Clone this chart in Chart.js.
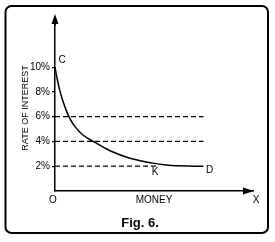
<!DOCTYPE html>
<html>
<head>
<meta charset="utf-8">
<script src="https://cdn.jsdelivr.net/npm/chart.js@4.4.0/dist/chart.umd.min.js"></script>
<style>
  html, body { margin: 0; padding: 0; background: #fff; }
  #wrap { width: 275px; height: 242px; }
</style>
</head>
<body>
<div id="wrap"><canvas id="liquidityChart"></canvas></div>
<script>
// liquidity preference curve (money vs rate of interest)
const money = [0, 0.6, 1.3, 2.3, 3.5, 5.1, 7.2, 10.1, 14.3, 19.3, 27.8, 37.9, 49.5, 56, 63, 75];
const rate = [10, 9.45, 8.9, 8.2, 7.5, 6.75, 5.95, 5.2, 4.5, 4, 3.25, 2.65, 2.25, 2.1, 2.03, 2];

// dashed reference levels and where each one stops
const guideLevels = [6, 4, 2];
const guideEnds = [75, 75, 52];

const yTicks = [2, 4, 6, 8, 10];

const pointNames = ['C', 'K', 'D'];
const pointMoney = [0, 51, 75];
const pointRate = [10, 2, 2];

const ink = '#000';
const fontFamily = '"Liberation Sans", Arial, sans-serif';

function createLiquidityChart(){
    const datasets = [];
    for(let i=0;i<guideLevels.length;i++){
        datasets.push({
            data: [{x: 0, y: guideLevels[i]}, {x: guideEnds[i], y: guideLevels[i]}],
            borderColor: ink,
            borderWidth: 1.3,
            borderDash: [5, 3],
            pointRadius: 0,
            fill: false
        });
    }
    datasets.push({
        data: money.map((m, i) => ({x: m, y: rate[i]})),
        borderColor: ink,
        borderWidth: 1.5,
        pointRadius: 0,
        fill: false,
        cubicInterpolationMode: 'monotone'
    });

    const paper = {
        id: 'paper',
        beforeDraw(chart){
            const ctx = chart.ctx;
            ctx.save();
            ctx.fillStyle = '#fff';
            ctx.fillRect(0, 0, chart.width, chart.height);
            ctx.strokeStyle = ink;
            ctx.lineWidth = 2;
            ctx.beginPath();
            ctx.roundRect(5.5, 6, 262.5, 227, 6);
            ctx.stroke();
            ctx.restore();
        },
        afterDraw(chart){
            const ctx = chart.ctx;
            const area = chart.chartArea;
            const xs = chart.scales.x;
            const ys = chart.scales.y;
            ctx.save();
            ctx.strokeStyle = ink;
            ctx.fillStyle = ink;
            ctx.lineWidth = 1.5;
            // y axis arrow
            ctx.beginPath();
            ctx.moveTo(area.left, area.top + 1);
            ctx.lineTo(area.left, area.top - 4);
            ctx.stroke();
            ctx.beginPath();
            ctx.moveTo(area.left, area.top - 11);
            ctx.lineTo(area.left - 3.5, area.top - 1);
            ctx.lineTo(area.left + 3.5, area.top - 1);
            ctx.closePath();
            ctx.fill();
            // x axis arrow
            ctx.beginPath();
            ctx.moveTo(area.right + 1, area.bottom);
            ctx.lineTo(area.right - 10, area.bottom - 3.5);
            ctx.lineTo(area.right - 10, area.bottom + 3.5);
            ctx.closePath();
            ctx.fill();

            ctx.font = '10px ' + fontFamily;
            ctx.textAlign = 'center';
            ctx.textBaseline = 'middle';
            ctx.fillText('O', area.left - 2, area.bottom + 9);
            ctx.fillText('X', area.right + 3, area.bottom + 9);

            const offsets = [[7, -7], [-1, 6], [6, 4]];
            for(let i=0;i<pointNames.length;i++){
                const px = xs.getPixelForValue(pointMoney[i]);
                const py = ys.getPixelForValue(pointRate[i]);
                ctx.fillText(pointNames[i], px + offsets[i][0], py + offsets[i][1]);
            }

            ctx.font = 'bold 13px ' + fontFamily;
            ctx.fillText('Fig. 6.', 140, 223);
            ctx.restore();
        }
    };

    const config = {
        type: 'line',
        data: { datasets },
        options: {
            responsive: true,
            maintainAspectRatio: false,
            animation: false,
            layout: { padding: { left: 5, right: 22, top: 25, bottom: 0 } },
            plugins: {
                legend: { display: false },
                tooltip: { enabled: false }
            },
            scales: {
                x: {
                    type: 'linear',
                    min: 0,
                    max: 100,
                    grid: { display: false },
                    ticks: { display: false },
                    border: { display: true, color: ink, width: 1.5 },
                    title: {
                        display: true,
                        text: 'MONEY',
                        color: ink,
                        font: { family: fontFamily, size: 10 },
                        padding: { top: 0, bottom: 36 }
                    },
                    afterFit(scale){ scale.height = 51; }
                },
                y: {
                    type: 'linear',
                    min: 0,
                    max: 13.4,
                    afterBuildTicks(scale){ scale.ticks = yTicks.map(v => ({value: v})); },
                    grid: { display: true, drawOnChartArea: false, drawTicks: true, tickLength: 3, color: ink, lineWidth: 1.2 },
                    border: { display: true, color: ink, width: 1.5 },
                    ticks: {
                        padding: 2,
                        color: ink,
                        font: { family: fontFamily, size: 10 },
                        callback: v => v + '%'
                    },
                    title: {
                        display: true,
                        text: 'RATE OF INTEREST',
                        color: ink,
                        font: { family: fontFamily, size: 9 },
                        padding: { top: 15, bottom: 0 }
                    },
                    afterFit(scale){ scale.width = 50; }
                }
            }
        },
        plugins: [paper]
    };

    new Chart(document.getElementById('liquidityChart'), config);
}

createLiquidityChart();
</script>
</body>
</html>
